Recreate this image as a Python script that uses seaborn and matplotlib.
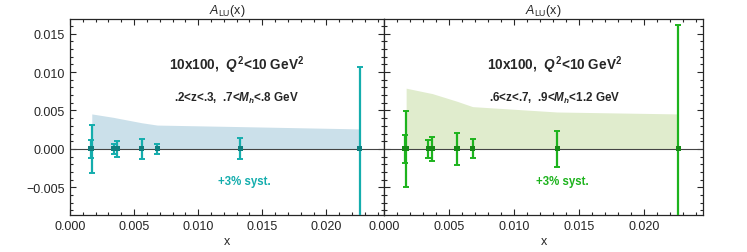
import numpy as np
import pandas as pd
import matplotlib
matplotlib.use("Agg")
import matplotlib.pyplot as plt
import seaborn as sns
from matplotlib.ticker import MultipleLocator

# bin centres in x (same for both panels)
x_vals = [0.0016, 0.0017, 0.0034, 0.0037, 0.0056, 0.0068, 0.0133, 0.0226]
asym = [0, 0, 0, 0, 0, 0, 0, 0]

# statistical errors
err_left = [0.00115, 0.0031, 0.0007, 0.001, 0.00134, 0.0007, 0.00136, 0.0107]
err_right = [0.00184, 0.0049, 0.0012, 0.00158, 0.00212, 0.00123, 0.00232, 0.0161]

# systematic band (upper edge)
band_x = [0.0017, 0.0034, 0.0037, 0.0056, 0.0068, 0.0133, 0.0226]
band_left = [0.00455, 0.0041, 0.0040, 0.0034, 0.0031, 0.0029, 0.0026]
band_right = [0.0079, 0.0073, 0.0072, 0.0062, 0.0055, 0.0048, 0.00455]

sns.set_style("ticks")
plt.rcParams['font.family'] = ['Liberation Sans', 'DejaVu Sans']
plt.rcParams['mathtext.fontset'] = 'custom'
plt.rcParams['mathtext.rm'] = 'Liberation Sans'
plt.rcParams['mathtext.it'] = 'Liberation Sans:italic:bold'
plt.rcParams['mathtext.sf'] = 'Liberation Sans:italic'
plt.rcParams['mathtext.bf'] = 'Liberation Sans:bold'

fig = plt.figure(figsize=(7.47, 2.53), dpi=100)
ax1 = fig.add_axes([70 / 747, 37 / 253, 314 / 747, 196 / 253])
ax2 = fig.add_axes([384 / 747, 37 / 253, 319 / 747, 196 / 253])

panels = [
    (ax1, err_left, band_left, '#14adad', '#cbe0ea', '#107f7f', '.2<z<.3,  .7<$M_h$<.8 GeV', 0.53),
    (ax2, err_right, band_right, '#1db31d', '#e0eccd', '#168a16', '.6<z<.7,  .9<$M_h$<1.2 GeV', 0.535),
]

for ax, err, band, col, bcol, mcol, bin_txt, tx in panels:
    ax.fill_between(band_x, 0, band, color=bcol, lw=0, zorder=1)
    ax.axhline(0, color='#444444', lw=0.8, zorder=2)
    ax.errorbar(x_vals, asym, yerr=err, fmt='none', ecolor=col, elinewidth=1.6,
                capsize=2, capthick=1.4, zorder=3)
    df = pd.DataFrame({'x': x_vals, 'y': asym})
    sns.scatterplot(data=df, x='x', y='y', ax=ax, marker='s', s=14, color=mcol,
                    edgecolor='none', zorder=4)
    ax.set_xlim(0, 0.0245)
    ax.set_ylim(-0.0086, 0.0169)
    ax.xaxis.set_major_locator(MultipleLocator(0.005))
    ax.xaxis.set_minor_locator(MultipleLocator(0.001))
    ax.yaxis.set_major_locator(MultipleLocator(0.005))
    ax.yaxis.set_minor_locator(MultipleLocator(0.001))
    ax.tick_params(which='both', direction='in', top=True, right=True, labelsize=9, width=0.8)
    ax.tick_params(which='major', length=4)
    ax.tick_params(which='minor', length=2)
    for s in ax.spines.values():
        s.set_linewidth(0.9)
    ax.xaxis.set_major_formatter(matplotlib.ticker.FormatStrFormatter('%.3f'))
    ax.yaxis.set_major_formatter(matplotlib.ticker.FuncFormatter(
        lambda v, p: ('\u2212%.3f' % abs(v)) if v < -1e-9 else '%.3f' % abs(v)))
    ax.set_xlabel('x', fontsize=9, labelpad=2)
    ax.set_ylabel('')
    ax.set_title(r'$\mathsf{A}_{\mathrm{LU}}$(x)', fontsize=9, pad=4)
    ax.text(tx, 0.77, r'10x100,  $Q^{\mathbf{2}}$<10 GeV$^{\mathbf{2}}$', transform=ax.transAxes,
            ha='center', va='center', fontsize=9.8, fontweight='bold')
    ax.text(tx, 0.60, bin_txt, transform=ax.transAxes,
            ha='center', va='center', fontsize=8.4, fontweight='bold')
    ax.text(tx + 0.025, 0.173, '+3% syst.', transform=ax.transAxes, color=col,
            ha='center', va='center', fontsize=8.3, fontweight='bold')

ax2.tick_params(labelleft=False)

fig.savefig('out.png', dpi=100)
